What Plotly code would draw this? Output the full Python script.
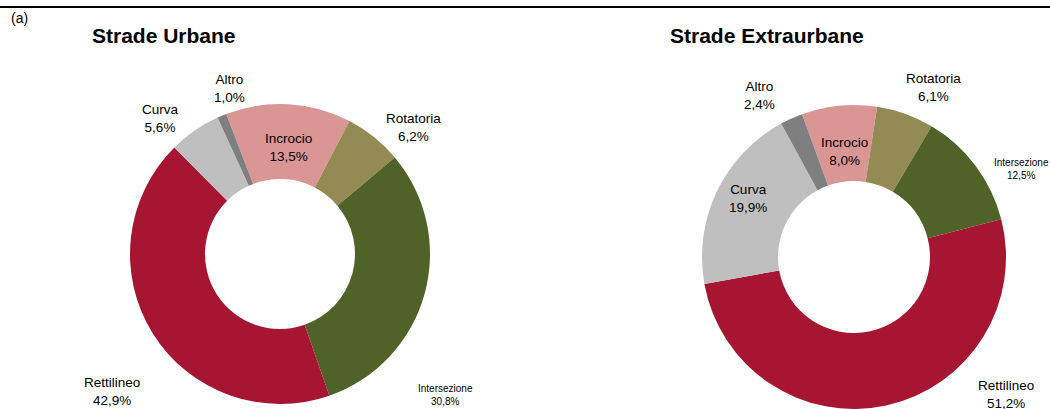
import plotly.graph_objects as go

W, H = 1050, 409

categories = ["Incrocio", "Rotatoria", "Intersezione", "Rettilineo", "Curva", "Altro"]
urbane_values = [13.5, 6.2, 30.8, 42.9, 5.6, 1.0]
extra_values = [8.0, 6.1, 12.5, 51.2, 19.9, 2.4]
value_labels_urbane = ["13,5%", "6,2%", "30,8%", "42,9%", "5,6%", "1,0%"]
value_labels_extra = ["8,0%", "6,1%", "12,5%", "51,2%", "19,9%", "2,4%"]

colors = ["#D99694", "#948A54", "#4F6228", "#A61532", "#BFBFBF", "#7F7F7F"]
FONT = "Liberation Sans, Arial, sans-serif"

# label centres in pixels (text placement only)
pos_urbane = {"Incrocio": (288, 147, 13.5), "Rotatoria": (413, 127, 13.5),
              "Intersezione": (445, 395, 10), "Rettilineo": (112, 391, 13.5),
              "Curva": (160, 118, 13.5), "Altro": (229, 88, 13.5)}
pos_extra = {"Incrocio": (844, 152, 13.5), "Rotatoria": (933, 87, 13.5),
             "Intersezione": (1021, 169, 10), "Rettilineo": (1006, 394, 13.5),
             "Curva": (748, 198, 13.5), "Altro": (759, 95, 13.5)}


def px(x):
    return x / W


def py(y):
    return 1 - y / H


fig = go.Figure()
fig.add_trace(go.Pie(
    labels=categories, values=urbane_values, hole=0.5, sort=False,
    direction="clockwise", rotation=-21, textinfo="none", hoverinfo="label+percent",
    marker=dict(colors=colors, line=dict(width=0)),
    domain=dict(x=[px(130), px(430)], y=[py(404), py(104)]), showlegend=False))
fig.add_trace(go.Pie(
    labels=categories, values=extra_values, hole=0.5, sort=False,
    direction="clockwise", rotation=-20, textinfo="none", hoverinfo="label+percent",
    marker=dict(colors=colors, line=dict(width=0)),
    domain=dict(x=[px(702), px(1006)], y=[0, py(105)]), showlegend=False))

annotations = []
for cats, vals, pos in ((categories, value_labels_urbane, pos_urbane),
                        (categories, value_labels_extra, pos_extra)):
    for c, v in zip(cats, vals):
        x, y, s = pos[c]
        annotations.append(dict(x=px(x), y=py(y), xref="paper", yref="paper",
                                text=f"{c}<br>{v}", showarrow=False,
                                font=dict(family=FONT, size=s, color="#000"),
                                xanchor="center", yanchor="middle"))

annotations.append(dict(x=px(90), y=py(35), xref="paper", yref="paper",
                        text="<b>Strade Urbane</b>", showarrow=False,
                        font=dict(family=FONT, size=21, color="#000"),
                        xanchor="left", yanchor="middle"))
annotations.append(dict(x=px(668), y=py(35), xref="paper", yref="paper",
                        text="<b>Strade Extraurbane</b>", showarrow=False,
                        font=dict(family=FONT, size=21, color="#000"),
                        xanchor="left", yanchor="middle"))
annotations.append(dict(x=px(9), y=py(18), xref="paper", yref="paper",
                        text="(a)", showarrow=False,
                        font=dict(family=FONT, size=14, color="#000"),
                        xanchor="left", yanchor="middle"))

fig.update_layout(
    width=W, height=H, margin=dict(l=0, r=0, t=0, b=0),
    paper_bgcolor="white", plot_bgcolor="white",
    annotations=annotations,
    shapes=[dict(type="line", xref="paper", yref="paper", x0=0, x1=1,
                 y0=py(7), y1=py(7), line=dict(color="#000", width=2))],
)

fig.write_html("out.html", config={"displayModeBar": False},
               post_script="document.body.style.margin='0';document.body.style.overflow='hidden';")
